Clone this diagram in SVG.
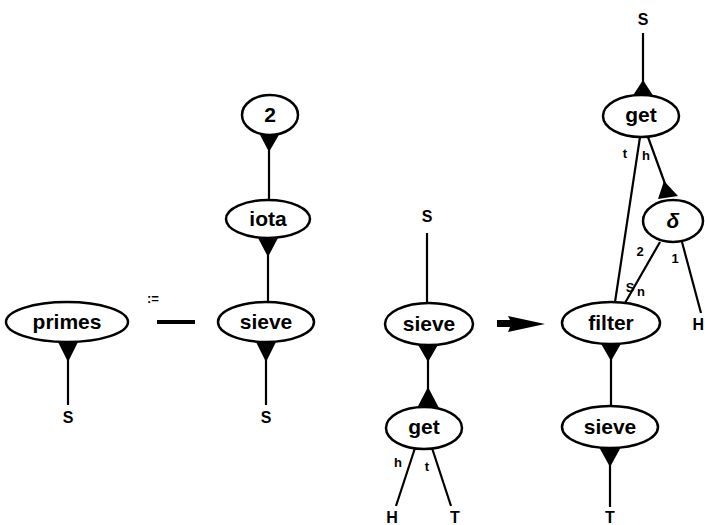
<svg xmlns="http://www.w3.org/2000/svg" width="705" height="525" viewBox="0 0 705 525">
<style>
.n ellipse{fill:#fff;stroke:#000;stroke-width:2.5}
.lbl{font-family:"Liberation Sans",Arial,sans-serif;font-weight:bold;font-size:21px;text-anchor:middle;fill:#000}
.io{font-family:"Liberation Sans",Arial,sans-serif;font-weight:bold;font-size:16px;text-anchor:middle;fill:#000}
.sm{font-family:"Liberation Sans",Arial,sans-serif;font-weight:bold;font-size:13px;text-anchor:middle;fill:#000}
.e line{stroke:#000;stroke-width:2.2}
.e polygon{fill:#000}
</style>
<rect width="705" height="525" fill="#fff"/>
<g id="connectors" class="e">
<line x1="68" y1="358" x2="68" y2="405"/>
<polygon points="57,340 79,340 68,362"/>
<line x1="157" y1="322" x2="195" y2="322" style="stroke-width:4"/>
<line x1="269" y1="150" x2="269" y2="199"/>
<polygon points="259,133 280,133 269,152"/>
<line x1="268" y1="255" x2="268" y2="302"/>
<polygon points="257,236 279,236 268,257"/>
<line x1="266" y1="358" x2="266" y2="405"/>
<polygon points="255,340 277,340 266,362"/>
<line x1="427" y1="233" x2="427" y2="303"/>
<line x1="428" y1="358" x2="428" y2="390"/>
<polygon points="417,343 439,343 428,362"/>
<polygon points="428,387 417,408 439,408"/>
<line x1="415" y1="448" x2="396" y2="506"/>
<line x1="432" y1="448" x2="451" y2="506"/>
<path d="M497,320 L510,320 L508,316 L545,324 L508,332 L510,327 L497,327 Z" fill="#000"/>
<line x1="643" y1="33" x2="643" y2="85"/>
<polygon points="643,80 632,97 654,97"/>
<line x1="640" y1="137" x2="615" y2="302"/>
<line x1="648" y1="137" x2="668" y2="192"/>
<polygon points="664,181 658,199 678,196"/>
<line x1="660" y1="242" x2="625" y2="303"/>
<line x1="682" y1="242" x2="701" y2="313"/>
<line x1="611" y1="358" x2="611" y2="407"/>
<polygon points="600,342 622,342 611,361"/>
<line x1="610" y1="463" x2="610" y2="507"/>
<polygon points="599,447 621,447 610,467"/>
</g>
<g id="primes" class="n"><ellipse cx="67" cy="322" rx="61" ry="20"/><text class="lbl" x="67" y="329">primes</text></g>
<g id="two" class="n"><ellipse cx="270" cy="115" rx="28" ry="20"/><text class="lbl" x="270" y="122">2</text></g>
<g id="iota" class="n"><ellipse cx="268" cy="219" rx="42" ry="19"/><text class="lbl" x="268" y="226">iota</text></g>
<g id="sieve1" class="n"><ellipse cx="266" cy="322" rx="48" ry="20"/><text class="lbl" x="266" y="329">sieve</text></g>
<g id="sieve2" class="n"><ellipse cx="429" cy="324" rx="44" ry="21"/><text class="lbl" x="429" y="331">sieve</text></g>
<g id="get2" class="n"><ellipse cx="424" cy="428" rx="38" ry="21"/><text class="lbl" x="424" y="434">get</text></g>
<g id="get3" class="n"><ellipse cx="641" cy="116" rx="38" ry="21"/><text class="lbl" x="641" y="122">get</text></g>
<g id="delta" class="n"><ellipse cx="673" cy="221" rx="30" ry="21"/><text class="lbl" x="673" y="228" style="font-style:italic">δ</text></g>
<g id="filter" class="n"><ellipse cx="611" cy="323" rx="49" ry="21"/><text class="lbl" x="611" y="330">filter</text></g>
<g id="sieve3" class="n"><ellipse cx="610" cy="427" rx="48" ry="21"/><text class="lbl" x="610" y="434">sieve</text></g>
<g id="labels">
<text class="io" x="68" y="423">S</text>
<text class="io" x="266" y="423">S</text>
<text class="sm" x="153" y="303">:=</text>
<text class="io" x="427" y="222">S</text>
<text class="sm" x="398" y="467">h</text>
<text class="sm" x="427" y="471">t</text>
<text class="io" x="392" y="523">H</text>
<text class="io" x="455" y="523">T</text>
<text class="io" x="643" y="25">S</text>
<text class="sm" x="625" y="158">t</text>
<text class="sm" x="646" y="160">h</text>
<text class="sm" x="640" y="256">2</text>
<text class="sm" x="675" y="263">1</text>
<text class="sm" x="630" y="292">S</text>
<text class="sm" x="641" y="296">n</text>
<text class="io" x="704" y="330" style="text-anchor:end">H</text>
<text class="io" x="610" y="523">T</text>
</g>
</svg>
